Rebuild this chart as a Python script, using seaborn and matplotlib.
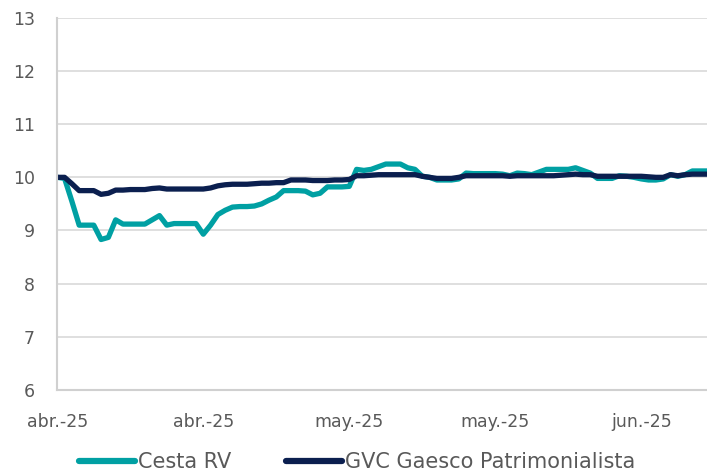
import seaborn as sns
import matplotlib.pyplot as plt
import pandas as pd
import numpy as np

# Series values (one point per session)
cesta_rv = [10.0, 9.98, 9.55, 9.1, 9.1, 9.1, 8.83, 8.87, 9.2, 9.12,
            9.12, 9.12, 9.12, 9.2, 9.28, 9.1, 9.13, 9.13, 9.13, 9.13,
            8.93, 9.1, 9.3, 9.38, 9.44, 9.45, 9.45, 9.46, 9.5, 9.57,
            9.63, 9.75, 9.75, 9.75, 9.74, 9.67, 9.7, 9.82, 9.82, 9.82,
            9.83, 10.15, 10.13, 10.15, 10.2, 10.25, 10.25, 10.25, 10.18, 10.15,
            10.02, 10.0, 9.95, 9.95, 9.95, 9.97, 10.08, 10.07, 10.07, 10.07,
            10.07, 10.06, 10.03, 10.08, 10.07, 10.05, 10.1, 10.15, 10.15, 10.15,
            10.15, 10.18, 10.13, 10.08, 9.98, 9.98, 9.98, 10.03, 10.02, 10.0,
            9.97, 9.95, 9.95, 9.97, 10.05, 10.02, 10.05, 10.12, 10.12, 10.12]

gvc_gaesco = [10.0, 10.0, 9.88, 9.75, 9.75, 9.75, 9.68, 9.7, 9.76, 9.76,
              9.77, 9.77, 9.77, 9.79, 9.8, 9.78, 9.78, 9.78, 9.78, 9.78,
              9.78, 9.8, 9.84, 9.86, 9.87, 9.87, 9.87, 9.88, 9.89, 9.89,
              9.9, 9.9, 9.95, 9.95, 9.95, 9.94, 9.94, 9.94, 9.95, 9.95,
              9.96, 10.03, 10.03, 10.04, 10.05, 10.05, 10.05, 10.05, 10.05, 10.05,
              10.02, 10.0, 9.98, 9.98, 9.98, 10.0, 10.03, 10.03, 10.03, 10.03,
              10.03, 10.03, 10.02, 10.03, 10.03, 10.03, 10.03, 10.03, 10.03, 10.04,
              10.05, 10.06, 10.05, 10.05, 10.02, 10.02, 10.02, 10.02, 10.02, 10.02,
              10.02, 10.01, 10.0, 10.0, 10.05, 10.03, 10.05, 10.06, 10.06, 10.06]

series_names = ["Cesta RV", "GVC Gaesco Patrimonialista"]
tick_labels = ["abr.-25", "abr.-25", "may.-25", "may.-25", "jun.-25"]
tick_every = 20

colors = {"Cesta RV": "#00A0A3", "GVC Gaesco Patrimonialista": "#0B1F4F"}
text_color = "#595959"

# Long-form table for seaborn
n = len(cesta_rv)
df = pd.concat([
    pd.DataFrame({"idx": np.arange(n), "valor": cesta_rv, "serie": series_names[0]}),
    pd.DataFrame({"idx": np.arange(n), "valor": gvc_gaesco, "serie": series_names[1]}),
])

sns.set_style("white")
plt.rcParams['font.family'] = ['DejaVu Sans']

fig = plt.figure(figsize=(7.07, 4.72), dpi=100)
ax = fig.add_axes([0.081, 0.174, 0.919, 0.788])

sns.lineplot(data=df, x="idx", y="valor", hue="serie", palette=colors,
             linewidth=3.8, ax=ax, legend=False, solid_capstyle="butt")

ax.set_xlim(0, n - 1)
ax.set_ylim(6, 13)
ax.set_yticks(range(6, 14))
ax.set_xticks(range(0, n, tick_every))
ax.set_xticklabels(tick_labels)
ax.set_xlabel("")
ax.set_ylabel("")

ax.yaxis.grid(True, color="#d9d9d9", linewidth=1.2)
ax.set_axisbelow(True)
for side in ["top", "right"]:
    ax.spines[side].set_visible(False)
for side in ["left", "bottom"]:
    ax.spines[side].set_color("#d0d0d0")
    ax.spines[side].set_linewidth(1.5)

ax.tick_params(axis="both", length=0, labelsize=12.5, colors=text_color)
ax.tick_params(axis="y", pad=16)
ax.tick_params(axis="x", pad=17)

# Legend below the plot
handles = [plt.Line2D([], [], color=colors[s], linewidth=4.5, solid_capstyle="round")
           for s in series_names]
fig.legend(handles, series_names, loc="center", bbox_to_anchor=(0.505, 0.021),
           ncol=2, frameon=False, fontsize=15, handlelength=2.7,
           handletextpad=0.15, columnspacing=2.6, labelcolor=text_color,
           borderpad=0, borderaxespad=0)

fig.savefig("out.png", dpi=100)
